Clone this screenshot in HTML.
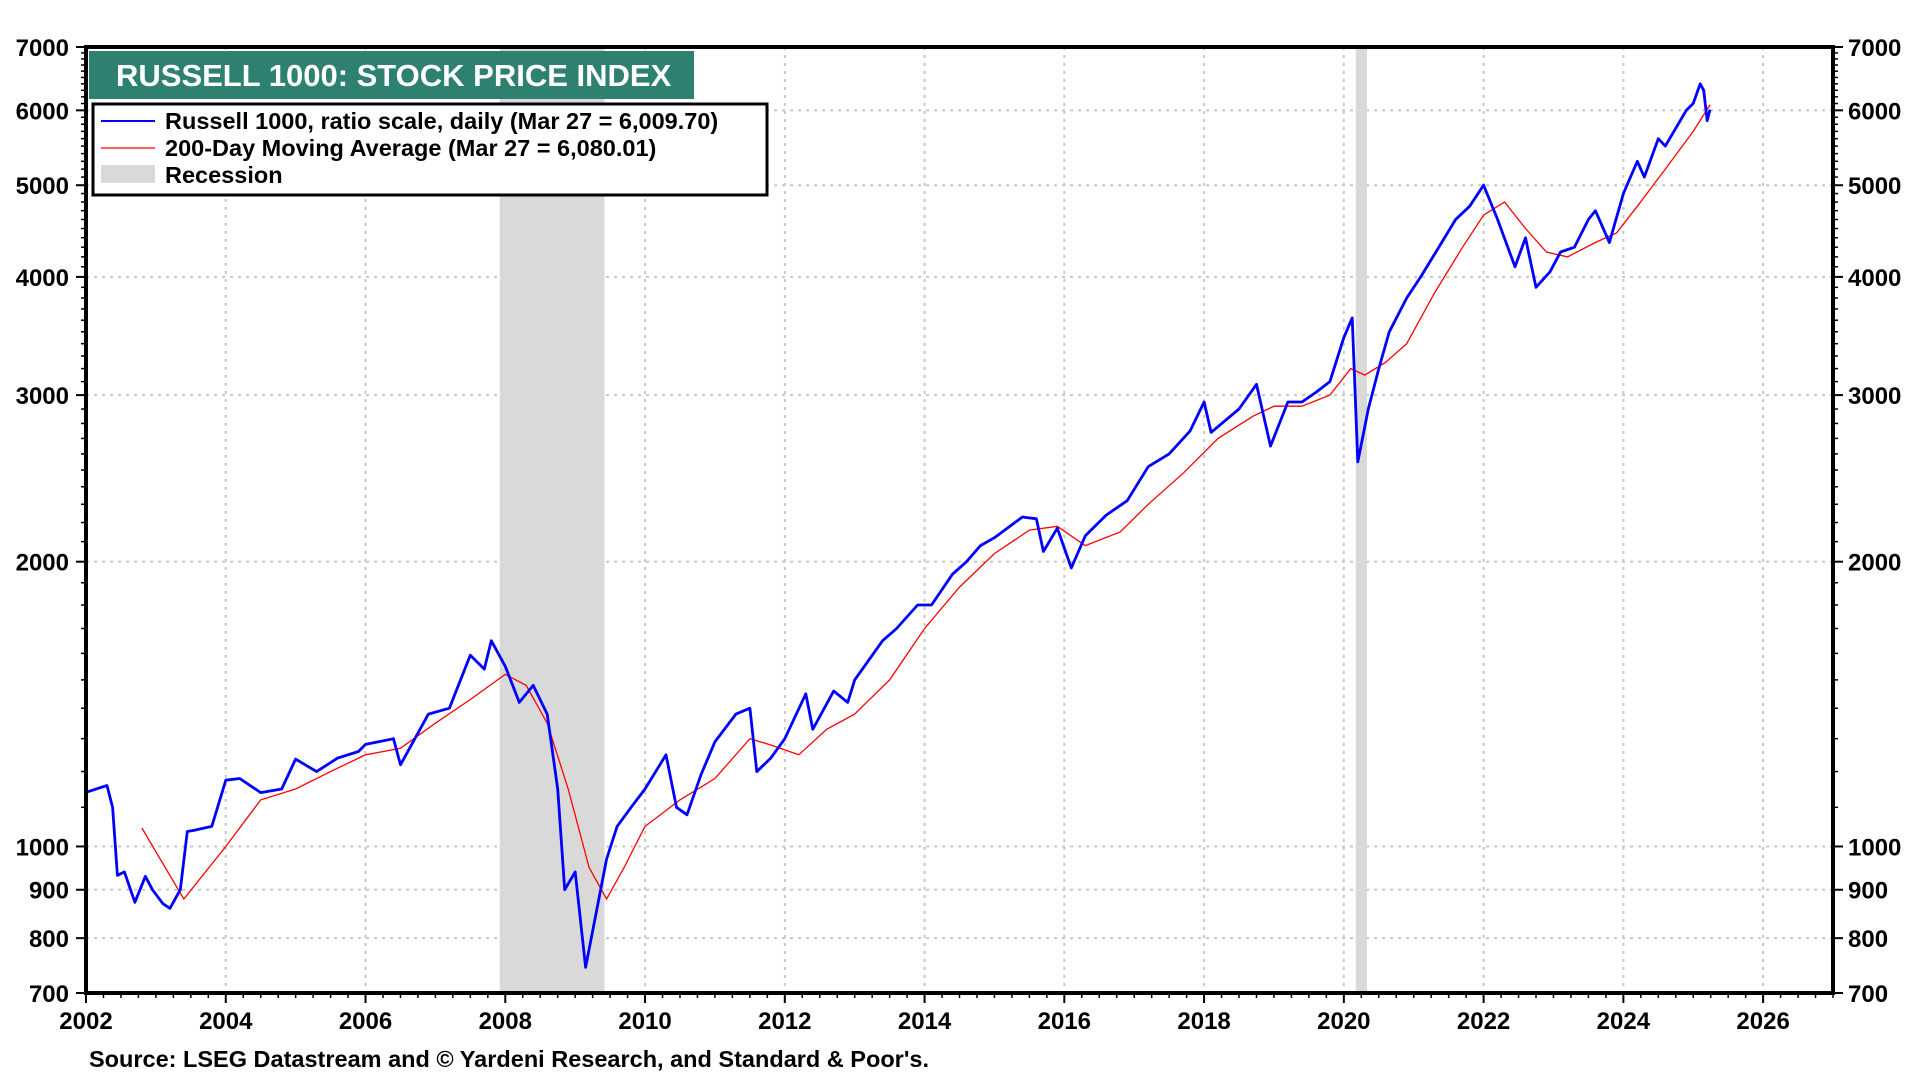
<!DOCTYPE html>
<html><head><meta charset="utf-8"><style>
html,body{margin:0;padding:0;background:#fff;width:1920px;height:1080px;overflow:hidden}
svg text{font-family:"Liberation Sans",Arial,sans-serif;font-weight:bold}
</style></head><body>
<svg id="chart" width="1920" height="1080" xmlns="http://www.w3.org/2000/svg">
<g id="grid"></g>
<g id="rec"></g>
<g id="series"></g>
<rect x="86" y="47" width="1747" height="946" fill="none" stroke="#000" stroke-width="4"/>
<g id="axes"></g>
<rect x="89" y="51" width="605" height="48" fill="#2e8070"/>
<text x="116" y="86" fill="#fff" font-size="31">RUSSELL 1000: STOCK PRICE INDEX</text>
<g>
<rect x="93" y="104" width="674" height="91" fill="#fff" stroke="#000" stroke-width="3"/>
<line x1="101" y1="121" x2="155" y2="121" stroke="#0000ff" stroke-width="2"/>
<text x="165" y="129" font-size="23.5">Russell 1000, ratio scale, daily (Mar 27 = 6,009.70)</text>
<line x1="101" y1="148" x2="155" y2="148" stroke="#ff6060" stroke-width="2"/>
<text x="165" y="156" font-size="23.5">200-Day Moving Average (Mar 27 = 6,080.01)</text>
<rect x="101" y="165" width="54" height="18" fill="#d9d9d9"/>
<text x="165" y="183" font-size="23.5">Recession</text>
</g>
<text x="89" y="1067" font-size="23.5">Source: LSEG Datastream and © Yardeni Research, and Standard &amp; Poor's.</text>
</svg>
<script>
const priceDates=[2002.0,2002.3,2002.38,2002.45,2002.55,2002.7,2002.85,2002.95,2003.1,2003.2,2003.35,2003.45,2003.55,2003.8,2004.0,2004.2,2004.5,2004.8,2005.0,2005.3,2005.6,2005.9,2006.0,2006.4,2006.5,2006.9,2007.2,2007.5,2007.7,2007.8,2008.0,2008.2,2008.4,2008.6,2008.75,2008.85,2009.0,2009.15,2009.3,2009.45,2009.6,2009.8,2010.0,2010.3,2010.45,2010.6,2010.8,2011.0,2011.3,2011.5,2011.6,2011.8,2012.0,2012.3,2012.4,2012.7,2012.9,2013.0,2013.4,2013.6,2013.9,2014.1,2014.4,2014.6,2014.8,2015.0,2015.4,2015.6,2015.7,2015.9,2016.1,2016.3,2016.6,2016.9,2017.2,2017.5,2017.8,2018.0,2018.1,2018.5,2018.75,2018.95,2019.2,2019.4,2019.6,2019.8,2020.0,2020.12,2020.2,2020.35,2020.5,2020.65,2020.9,2021.1,2021.4,2021.6,2021.8,2022.0,2022.2,2022.45,2022.6,2022.75,2022.95,2023.1,2023.3,2023.5,2023.6,2023.8,2024.0,2024.2,2024.3,2024.5,2024.6,2024.9,2025.0,2025.1,2025.15,2025.2,2025.24];
const priceValues=[1141,1160,1100,932,940,873,930,900,870,860,900,1037,1040,1050,1175,1180,1140,1150,1237,1200,1240,1260,1282,1300,1220,1380,1400,1593,1540,1650,1550,1420,1480,1380,1150,900,940,745,850,970,1050,1100,1150,1250,1100,1080,1190,1290,1380,1400,1200,1240,1300,1450,1330,1460,1420,1500,1650,1700,1800,1800,1940,2000,2080,2120,2230,2220,2050,2170,1970,2130,2240,2320,2520,2600,2750,2950,2740,2900,3080,2650,2950,2950,3020,3100,3450,3620,2550,2900,3200,3500,3800,4000,4350,4600,4750,5000,4600,4100,4400,3900,4050,4250,4300,4600,4700,4350,4900,5300,5100,5600,5500,6000,6100,6400,6300,5850,6010];
const maDates=[2002.8,2003.4,2004.0,2004.5,2005.0,2005.5,2006.0,2006.5,2007.0,2007.5,2008.0,2008.3,2008.6,2008.9,2009.2,2009.45,2009.7,2010.0,2010.5,2011.0,2011.5,2011.8,2012.2,2012.6,2013.0,2013.5,2014.0,2014.5,2015.0,2015.5,2015.9,2016.3,2016.8,2017.2,2017.7,2018.2,2018.7,2019.0,2019.4,2019.8,2020.1,2020.3,2020.6,2020.9,2021.3,2021.7,2022.0,2022.3,2022.6,2022.9,2023.2,2023.6,2023.9,2024.2,2024.6,2025.0,2025.24];
const maValues=[1046,880,1000,1120,1150,1200,1250,1270,1350,1430,1520,1480,1350,1150,950,880,950,1050,1120,1180,1300,1280,1250,1330,1380,1500,1700,1880,2040,2160,2180,2080,2150,2300,2480,2700,2850,2920,2920,3000,3200,3150,3250,3400,3850,4300,4650,4800,4500,4250,4200,4350,4450,4750,5200,5700,6080];
const recStarts=[2007.92,2020.17];
const recEnds=[2009.42,2020.33];
const yTicks=[700,800,900,1000,2000,3000,4000,5000,6000,7000];
const xTicks=[2002,2004,2006,2008,2010,2012,2014,2016,2018,2020,2022,2024,2026];

const NS="http://www.w3.org/2000/svg";
const L=86,R=1833,T=47,B=993,X0=2002,X1=2027,YMIN=700,YMAX=7000;
const sx=d=>L+(d-X0)/(X1-X0)*(R-L);
const sy=v=>B-(Math.log(v/YMIN)/Math.log(YMAX/YMIN))*(B-T);
function mk(tag,attrs,parent){const e=document.createElementNS(NS,tag);for(const k in attrs)e.setAttribute(k,attrs[k]);parent.appendChild(e);return e;}
const grid=document.getElementById('grid'),axes=document.getElementById('axes'),rec=document.getElementById('rec'),ser=document.getElementById('series');

yTicks.forEach(v=>{
  const y=sy(v);
  if(v>YMIN&&v<YMAX){const g=mk('line',{x1:L,x2:R,y1:y,y2:y,stroke:'#c8c8c8','stroke-width':2,'stroke-dasharray':'3,5'},grid);
  
  }
  const tl=mk('text',{x:L-17,y:y+9,'font-size':24,'text-anchor':'end'},axes);tl.textContent=v;
  
  
  const tr=mk('text',{x:R+15,y:y+9,'font-size':24},axes);tr.textContent=v;
  
  
  mk('line',{x1:L-10,x2:L,y1:y,y2:y,stroke:'#000','stroke-width':2},axes);
  mk('line',{x1:R,x2:R+10,y1:y,y2:y,stroke:'#000','stroke-width':2},axes);
});
for(let v=700;v<7000;v+=100){
  if(yTicks.includes(v))continue;
  const y=sy(v);
  mk('line',{x1:L-5,x2:L,y1:y,y2:y,stroke:'#000','stroke-width':1.5},axes);
  mk('line',{x1:R,x2:R+5,y1:y,y2:y,stroke:'#000','stroke-width':1.5},axes);
}
xTicks.forEach(d=>{
  const x=sx(d);
  if(d>X0){const g=mk('line',{x1:x,x2:x,y1:T,y2:B,stroke:'#c8c8c8','stroke-width':2,'stroke-dasharray':'3,5'},grid);
  
  }
  const t=mk('text',{x:x,y:B+36,'font-size':24,'text-anchor':'middle'},axes);t.textContent=d;
  
  
  mk('line',{x1:x,x2:x,y1:B,y2:B+10,stroke:'#000','stroke-width':2},axes);
});
for(let d=X0;d<=X1;d+=0.25){mk('line',{x1:sx(d),x2:sx(d),y1:B,y2:B+5,stroke:'#000','stroke-width':1.5},axes);}

recStarts.forEach((s,i)=>{
  const r=mk('rect',{x:sx(s),y:T,width:sx(recEnds[i])-sx(s),height:B-T,fill:'#d9d9d9'},rec);
  
  
});
const pts=(ds,vs)=>ds.map((d,i)=>sx(d).toFixed(1)+','+sy(vs[i]).toFixed(1)).join(' ');
const ma=mk('polyline',{points:pts(maDates,maValues),fill:'none',stroke:'#ff0000','stroke-width':1.3},ser);


const pr=mk('polyline',{points:pts(priceDates,priceValues),fill:'none',stroke:'#0000ff','stroke-width':2.8,'stroke-linejoin':'round'},ser);


</script>
</body></html>
